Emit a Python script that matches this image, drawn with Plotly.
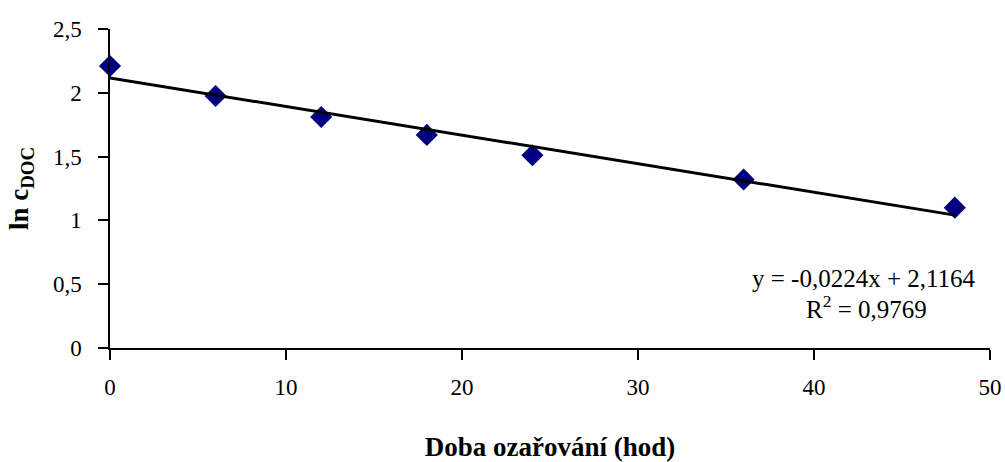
import plotly.graph_objects as go

# Data
time_h = [0, 6, 12, 18, 24, 36, 48]
ln_cdoc = [2.21, 1.975, 1.81, 1.67, 1.51, 1.32, 1.10]

# Trendline as stated on chart
slope = -0.0224
intercept = 2.1164
trend_x = [0, 48]
trend_y = [intercept + slope * x for x in trend_x]

x_ticks = [0, 10, 20, 30, 40, 50]
y_ticks = [0, 0.5, 1, 1.5, 2, 2.5]

FONT = "Liberation Serif, Times New Roman, serif"
TICK_FS = 23
ANN_FS = 25
TITLE_FS = 27

fig = go.Figure()
fig.add_trace(go.Scatter(
    x=time_h, y=ln_cdoc, mode="markers",
    marker=dict(symbol="diamond", color="#000080", size=17,
                line=dict(width=0)),
    showlegend=False, cliponaxis=False,
))
fig.add_trace(go.Scatter(
    x=trend_x, y=trend_y, mode="lines",
    line=dict(color="black", width=3), showlegend=False, cliponaxis=False,
))

fig.update_layout(
    width=1005, height=462,
    margin=dict(l=110, r=15, t=29, b=114),
    paper_bgcolor="white", plot_bgcolor="white",
    separators=", ",
    font=dict(family=FONT, size=TICK_FS, color="black"),
    annotations=[
        dict(x=0.857, y=0.219, xref="paper", yref="paper",
             xanchor="center", yanchor="middle",
             text="y = -0,0224x + 2,1164", showarrow=False,
             font=dict(family=FONT, size=ANN_FS, color="black")),
        dict(x=0.860, y=0.128, xref="paper", yref="paper",
             xanchor="center", yanchor="middle",
             text="R<sup>2</sup> = 0,9769", showarrow=False,
             font=dict(family=FONT, size=ANN_FS, color="black")),
    ],
    xaxis=dict(
        range=[0, 50], tickvals=x_ticks, showgrid=False, zeroline=False,
        showline=True, linecolor="black", linewidth=1.5, automargin=False,
        ticks="outside", ticklen=10, tickwidth=1.5, tickcolor="black",
        ticklabelstandoff=8, tickfont=dict(family=FONT, size=TICK_FS),
        title=dict(text="<b>Doba ozařování (hod)</b>", standoff=40,
                   font=dict(family=FONT, size=TITLE_FS)),
    ),
    yaxis=dict(
        range=[0, 2.5], tickvals=y_ticks, showgrid=False, zeroline=False,
        showline=True, linecolor="black", linewidth=1.5, automargin=False,
        ticks="outside", ticklen=10, tickwidth=1.5, tickcolor="black",
        ticklabelstandoff=12, tickfont=dict(family=FONT, size=TICK_FS),
        title=dict(text="<b>ln c<sub>DOC</sub></b>", standoff=16,
                   font=dict(family=FONT, size=TITLE_FS)),
    ),
)

# Remove the browser's default page margin so the figure sits at the page origin
fig.write_html("out.html", config={"displayModeBar": False},
               post_script="document.body.style.margin='0';")
